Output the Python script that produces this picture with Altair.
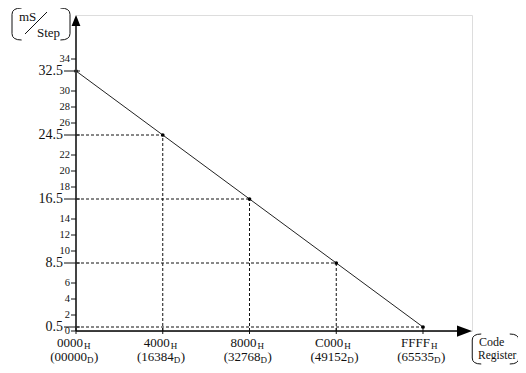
import altair as alt
import pandas as pd

# ---- data ----
code_dec = [0, 16384, 32768, 49152, 65535]
hex_labels = ["0000", "4000", "8000", "C000", "FFFF"]
dec_labels = ["(00000", "(16384", "(32768", "(49152", "(65535"]
ms_step = [32.5, 24.5, 16.5, 8.5, 0.5]
y_minor = [0, 2, 4, 6, 10, 12, 14, 18, 20, 22, 26, 28, 30, 34]

X_MAX = 74790
Y_MAX = 39.5
W, H = 396, 316
FONT = "Liberation Serif"
INK = "#111111"

pts = pd.DataFrame({"code": code_dec, "ms": ms_step, "hex": hex_labels, "dec": dec_labels})
pts["zero"] = 0
minor = pd.DataFrame({"v": y_minor})
one = pd.DataFrame({"zero": [0]})

xs = alt.Scale(domain=[0, X_MAX], nice=False, zero=False)
ys = alt.Scale(domain=[0, Y_MAX], nice=False, zero=False)
X = alt.X("code:Q", scale=xs, axis=None)
Y = alt.Y("ms:Q", scale=ys, axis=None)
X0 = alt.X("zero:Q", scale=xs, axis=None)
Y0 = alt.Y("zero:Q", scale=ys, axis=None)

base = alt.Chart(pts)

hdash = base.transform_filter("datum.code > 0").mark_rule(
    strokeDash=[3, 2], color=INK, strokeWidth=1
).encode(x=X0, x2="code:Q", y=Y)

vdash = base.transform_filter("datum.code > 0 && datum.code < 65535").mark_rule(
    strokeDash=[3, 2], color=INK, strokeWidth=1
).encode(x=X, y=Y0, y2="ms:Q")

line = base.mark_line(color="#222222", strokeWidth=1).encode(x=X, y=Y)
dots = base.mark_circle(size=14, color="black", opacity=1).encode(x=X, y=Y)

single = alt.Chart(one)
yaxis = single.mark_rule(color="#444444", strokeWidth=2).encode(x=X0, y=Y0, y2=alt.value(10))
xaxis = single.mark_rule(color="black", strokeWidth=1.5).encode(x=X0, x2=alt.value(W - 14), y=Y0)
yarrow = single.mark_point(shape="M0,-1L0.8,1L-0.8,1Z", filled=True, size=121,
                           color="black", opacity=1).encode(x=X0, y=alt.value(5.5))
xarrow = single.mark_point(shape="M1,0L-1,0.75L-1,-0.75Z", filled=True, size=225,
                           color="black", opacity=1).encode(x=alt.value(W - 7.5), y=Y0)

mchart = alt.Chart(minor)
YV = alt.Y("v:Q", scale=ys, axis=None)
mticks = mchart.mark_rule(color=INK, strokeWidth=1).encode(x=alt.value(-5), x2=alt.value(0), y=YV)
mlabels = mchart.mark_text(align="right", baseline="middle", font=FONT, fontSize=10.5,
                           color=INK).encode(x=alt.value(-6), y=YV, text="v:Q")

jticks = base.mark_rule(color=INK, strokeWidth=1).encode(x=alt.value(-12), x2=alt.value(4), y=Y)
jlabels = base.mark_text(align="right", baseline="middle", font=FONT, fontSize=14,
                         color=INK).encode(x=alt.value(-13), y=Y,
                                           text=alt.Text("ms:Q", format=".1f"))

L1, L2 = H + 12, H + 26
xticks = base.mark_rule(color=INK, strokeWidth=1).encode(x=X, y=alt.value(H - 3), y2=alt.value(H + 3))
hexl = base.mark_text(align="right", baseline="middle", font=FONT, fontSize=13, dx=7,
                      color=INK).encode(x=X, y=alt.value(L1), text="hex:N")
hsub = base.mark_text(align="left", baseline="middle", font=FONT, fontSize=9, dx=8,
                      color=INK, text="H").encode(x=X, y=alt.value(L1 + 3))
decl = base.mark_text(align="right", baseline="middle", font=FONT, fontSize=13, dx=11,
                      color=INK).encode(x=X, y=alt.value(L2), text="dec:N")
dsub = base.mark_text(align="left", baseline="middle", font=FONT, fontSize=9, dx=11,
                      color=INK, text="D").encode(x=X, y=alt.value(L2 + 3))
dclose = base.mark_text(align="left", baseline="middle", font=FONT, fontSize=13, dx=18,
                        color=INK, text=")").encode(x=X, y=alt.value(L2))

# ---- unit labels in brackets ----
LB = "M0.35,-1Q-0.25,-1 -0.25,-0.6L-0.25,0.6Q-0.25,1 0.35,1"
RB = "M-0.35,-1Q0.25,-1 0.25,-0.6L0.25,0.6Q0.25,1 -0.35,1"
unit_lb = single.mark_point(shape=LB, filled=False, size=1024, color=INK, strokeWidth=1,
                            opacity=1).encode(x=alt.value(-60), y=alt.value(9))
unit_rb = single.mark_point(shape=RB, filled=False, size=1024, color=INK, strokeWidth=1,
                            opacity=1).encode(x=alt.value(-10), y=alt.value(9))
unit_ms = single.mark_text(align="left", baseline="middle", font=FONT, fontSize=13, color=INK,
                           text="mS").encode(x=alt.value(-57), y=alt.value(2))
unit_step = single.mark_text(align="left", baseline="middle", font=FONT, fontSize=13, color=INK,
                             text="Step").encode(x=alt.value(-39), y=alt.value(18))
unit_slash = single.mark_rule(color=INK, strokeWidth=1).encode(
    x=alt.value(-51), x2=alt.value(-29), y=alt.value(19), y2=alt.value(-3))

code_lb = single.mark_point(shape=LB, filled=False, size=900, color=INK, strokeWidth=1,
                            opacity=1).encode(x=alt.value(400), y=alt.value(H + 18))
code_rb = single.mark_point(shape=RB, filled=False, size=900, color=INK, strokeWidth=1,
                            opacity=1).encode(x=alt.value(439), y=alt.value(H + 18))
code_t1 = single.mark_text(align="left", baseline="middle", font=FONT, fontSize=12, color=INK,
                           text="Code").encode(x=alt.value(403), y=alt.value(H + 11))
code_t2 = single.mark_text(align="left", baseline="middle", font=FONT, fontSize=11.5, color=INK,
                           text="Register").encode(x=alt.value(402), y=alt.value(H + 25))

chart = alt.layer(
    hdash, vdash, line, dots, yaxis, xaxis, yarrow, xarrow,
    mticks, mlabels, jticks, jlabels, xticks, hexl, hsub, decl, dsub, dclose,
    unit_lb, unit_rb, unit_ms, unit_step, unit_slash,
    code_lb, code_rb, code_t1, code_t2,
).properties(
    width=W, height=H,
    autosize=alt.AutoSizeParams(type="none"),
    padding={"left": 68, "top": 7, "right": 46, "bottom": 34},
).configure_view(stroke=None).configure(background="white")

chart.save("out.html", embed_options={"renderer": "svg", "actions": False})
